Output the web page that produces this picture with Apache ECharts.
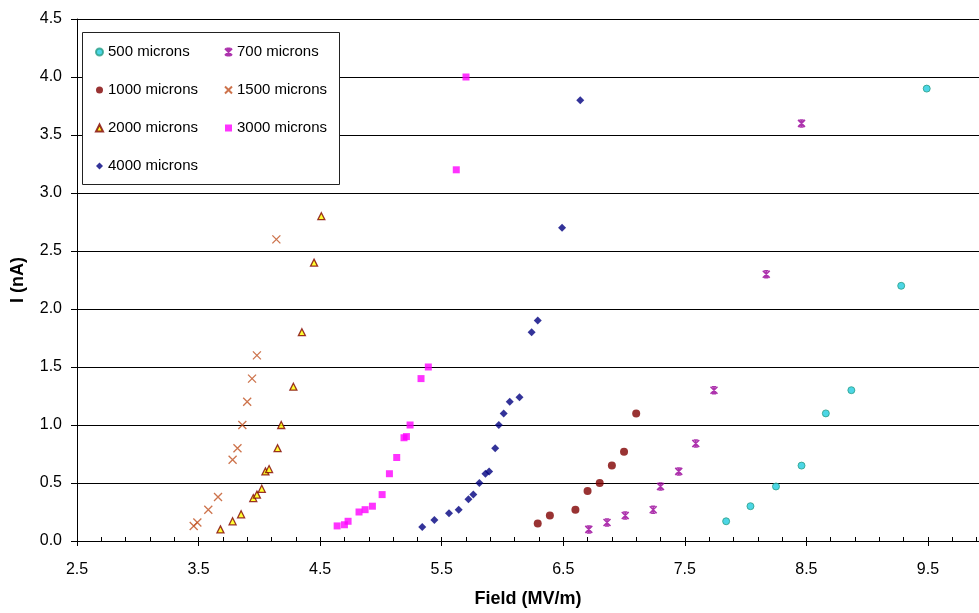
<!DOCTYPE html>
<html>
<head>
<meta charset="utf-8">
<script src="https://cdn.jsdelivr.net/npm/echarts@6/dist/echarts.min.js"></script>
<style>
  html, body { margin: 0; padding: 0; background: #fff; }
  #chart { width: 979px; height: 613px; }
</style>
</head>
<body>
<div id="chart"></div>
<script>
// field (MV/m) and current (nA) per gap size
const field500 = [7.84, 8.04, 8.25, 8.46, 8.66, 8.87, 9.28, 9.49];
const current500 = [0.17, 0.30, 0.47, 0.65, 1.10, 1.30, 2.20, 3.90];

const field700 = [6.71, 6.86, 7.01, 7.24, 7.30, 7.45, 7.59, 7.74, 8.17, 8.46];
const current700 = [0.10, 0.16, 0.22, 0.27, 0.47, 0.60, 0.84, 1.30, 2.30, 3.60];

const field1000 = [6.29, 6.39, 6.60, 6.70, 6.80, 6.90, 7.00, 7.10];
const current1000 = [0.15, 0.22, 0.27, 0.43, 0.50, 0.65, 0.77, 1.10];

const field1500 = [3.46, 3.49, 3.58, 3.66, 3.78, 3.82, 3.86, 3.90, 3.94, 3.98, 4.14];
const current1500 = [0.13, 0.16, 0.27, 0.38, 0.70, 0.80, 1.00, 1.20, 1.40, 1.60, 2.60];

const field2000 = [3.68, 3.78, 3.85, 3.95, 3.98, 4.02, 4.05, 4.08, 4.15, 4.18, 4.28, 4.35, 4.45, 4.51];
const current2000 = [0.10, 0.17, 0.23, 0.37, 0.40, 0.45, 0.60, 0.62, 0.80, 1.00, 1.33, 1.80, 2.40, 2.80];

const field3000 = [4.64, 4.70, 4.73, 4.82, 4.87, 4.93, 5.01, 5.07, 5.13, 5.19, 5.21, 5.24, 5.33, 5.39, 5.62, 5.70];
const current3000 = [0.13, 0.14, 0.17, 0.25, 0.27, 0.30, 0.40, 0.58, 0.72, 0.89, 0.90, 1.00, 1.40, 1.50, 3.20, 4.00];

const field4000 = [5.34, 5.44, 5.56, 5.64, 5.72, 5.76, 5.81, 5.86, 5.89, 5.94, 5.97, 6.01, 6.06, 6.14, 6.24, 6.29, 6.49, 6.64];
const current4000 = [0.12, 0.18, 0.24, 0.27, 0.36, 0.40, 0.50, 0.58, 0.60, 0.80, 1.00, 1.10, 1.20, 1.24, 1.80, 1.90, 2.70, 3.80];

const seriesNames = ['500 microns', '700 microns', '1000 microns', '1500 microns', '2000 microns', '3000 microns', '4000 microns'];

const FONT = '"Liberation Sans", Arial, sans-serif';
const X_MIN = 2.5, X_MAX = 9.92;
const pairs = (xs, ys) => xs.map((x, i) => [x, ys[i]]);

const chart = echarts.init(document.getElementById('chart'));

const legendBase = {
    orient: 'vertical',
    top: 43,
    padding: 0,
    itemWidth: 7,
    itemHeight: 7,
    itemGap: 20,
    z: 4,
    textStyle: { fontFamily: FONT, fontSize: 15, color: '#000', lineHeight: 18 }
};

const option = {
    backgroundColor: '#ffffff',
    animation: false,
    textStyle: { fontFamily: FONT },
    grid: { left: 77, top: 19, right: 0, bottom: 68, containLabel: false },
    graphic: [{
        type: 'rect',
        z: 3,
        shape: { x: 82.5, y: 32.5, width: 257, height: 152 },
        style: { fill: '#fff', stroke: '#222', lineWidth: 1 }
    }],
    legend: [
        Object.assign({}, legendBase, { left: 95, data: [seriesNames[0], seriesNames[2], seriesNames[4], seriesNames[6]] }),
        Object.assign({}, legendBase, { left: 224, data: [seriesNames[1], seriesNames[3], seriesNames[5]] })
    ],
    xAxis: [{
        type: 'value',
        min: X_MIN,
        max: X_MAX,
        interval: 1,
        name: 'Field (MV/m)',
        nameLocation: 'middle',
        nameGap: 49,
        nameTextStyle: { fontFamily: FONT, fontSize: 18, fontWeight: 'bold', color: '#000' },
        axisLine: { lineStyle: { color: '#000', width: 1 } },
        axisTick: { show: true, length: 5, lineStyle: { color: '#000' } },
        axisLabel: {
            margin: 21, fontSize: 16, color: '#000', fontFamily: FONT,
            showMaxLabel: false,
            formatter: v => (v > 9.6 ? '' : v.toFixed(1))
        },
        splitLine: { show: false }
    }, {
        // inner half of the crossing ticks plus minor ticks
        type: 'value',
        position: 'bottom',
        min: X_MIN,
        max: X_MAX,
        interval: 1,
        axisLine: { show: false },
        axisTick: { show: true, inside: true, length: 4, lineStyle: { color: '#000' } },
        minorTick: { show: true, splitNumber: 5, length: 4, lineStyle: { color: '#000' } },
        axisLabel: { show: false },
        splitLine: { show: false }
    }],
    yAxis: {
        type: 'value',
        min: 0,
        max: 4.5,
        interval: 0.5,
        name: 'I (nA)',
        nameLocation: 'middle',
        nameGap: 50,
        nameTextStyle: { fontFamily: FONT, fontSize: 18, fontWeight: 'bold', color: '#000' },
        axisLine: { show: true, lineStyle: { color: '#000', width: 1 } },
        axisTick: { show: true, length: 6, lineStyle: { color: '#000' } },
        axisLabel: { margin: 15, fontSize: 16, color: '#000', fontFamily: FONT, formatter: v => v.toFixed(1) },
        splitLine: { show: true, lineStyle: { color: '#000', width: 1 } }
    },
    series: [
        {
            name: seriesNames[0], type: 'scatter', data: pairs(field500, current500),
            symbol: 'circle', symbolSize: 7,
            itemStyle: { color: '#1FCCE0', borderColor: '#2A9D86', borderWidth: 1 }
        },
        {
            name: seriesNames[1], type: 'scatter', data: pairs(field700, current700),
            symbol: 'path://M0,0L10,10M10,0L0,10M5,0L5,10M2,0L8,0M2,10L8,10', symbolSize: 7,
            itemStyle: { color: 'transparent', borderColor: '#990099', borderWidth: 1.5 }
        },
        {
            name: seriesNames[2], type: 'scatter', data: pairs(field1000, current1000),
            symbol: 'circle', symbolSize: 8,
            itemStyle: { color: '#800000' }
        },
        {
            name: seriesNames[3], type: 'scatter', data: pairs(field1500, current1500),
            symbol: 'path://M0,0L10,10M10,0L0,10', symbolSize: 8,
            itemStyle: { color: 'transparent', borderColor: '#C0501F', borderWidth: 1.3 }
        },
        {
            name: seriesNames[4], type: 'scatter', data: pairs(field2000, current2000),
            symbol: 'triangle', symbolSize: 7,
            itemStyle: { color: '#FFFF00', borderColor: '#800000', borderWidth: 1.3 }
        },
        {
            name: seriesNames[5], type: 'scatter', data: pairs(field3000, current3000),
            symbol: 'rect', symbolSize: 7,
            itemStyle: { color: '#FF00FF' }
        },
        {
            name: seriesNames[6], type: 'scatter', data: pairs(field4000, current4000),
            symbol: 'diamond', symbolSize: 8,
            itemStyle: { color: '#000080' }
        }
    ]
};

chart.setOption(option);
</script>
</body>
</html>
